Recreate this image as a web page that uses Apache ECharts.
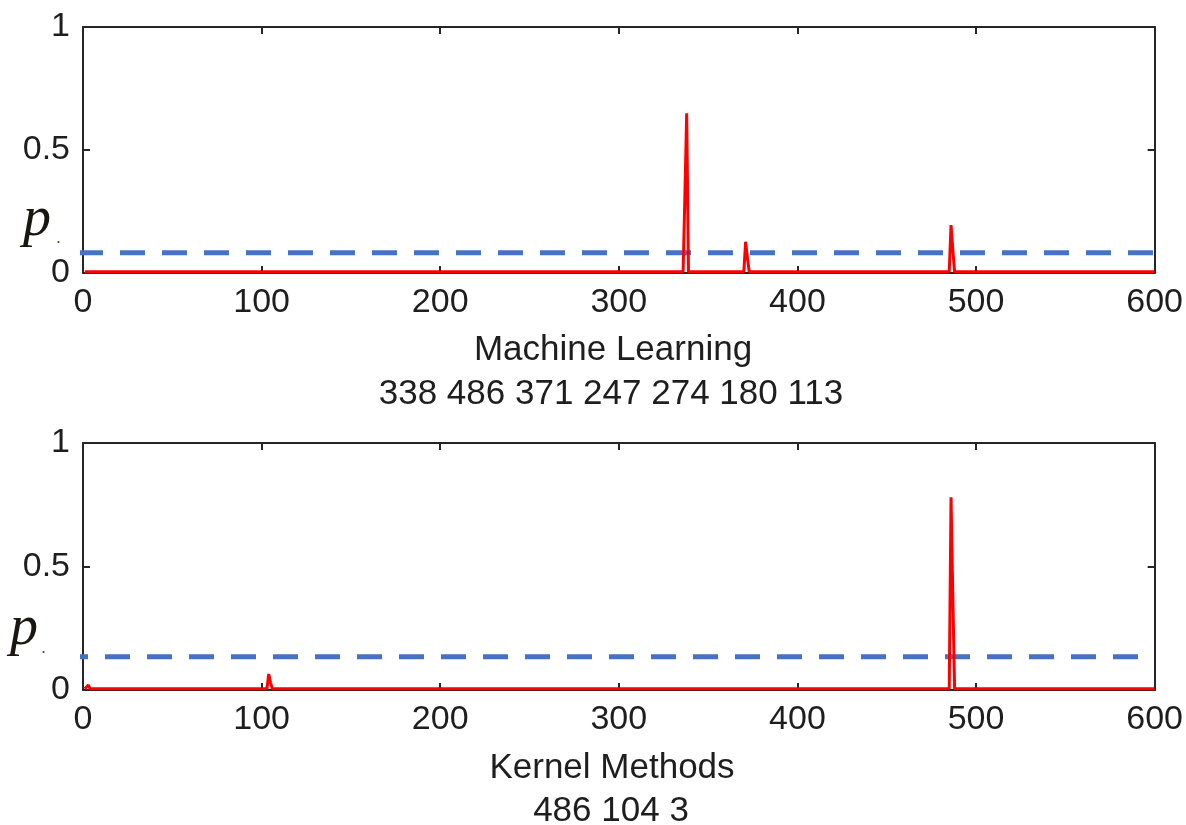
<!DOCTYPE html>
<html>
<head>
<meta charset="utf-8">
<script src="https://cdn.jsdelivr.net/npm/echarts@6/dist/echarts.min.js"></script>
<style>
  html, body { margin: 0; padding: 0; background: #ffffff; }
  #chart { width: 1186px; height: 825px; }
</style>
</head>
<body>
<div id="chart"></div>
<script>
// Word positions (x) and probabilities (y) along the line, per topic.
var mlX = [1, 112, 113, 114, 179, 180, 181, 246, 247, 248, 273, 274, 275, 336, 337, 338, 339, 370, 371, 372, 373, 485, 486, 487, 488, 600];
var mlY = [0.005, 0.005, 0.007, 0.005, 0.005, 0.008, 0.005, 0.005, 0.013, 0.005, 0.005, 0.009, 0.005, 0.005, 0.317, 0.649, 0.005, 0.005, 0.127, 0.062, 0.005, 0.005, 0.195, 0.096, 0.005, 0.005];
var kmX = [1, 2, 3, 4, 103, 104, 105, 106, 485, 486, 487, 488, 600];
var kmY = [0.005, 0.005, 0.02, 0.005, 0.005, 0.065, 0.03, 0.005, 0.005, 0.78, 0.382, 0.005, 0.005];

// Threshold lines: x extent and level
var mlThrX = [-2.8, 600];
var mlThrY = [0.0825, 0.0825];
var kmThrX = [-11.2, 591];
var kmThrY = [0.135, 0.135];

// Captions
var mlTitle = 'Machine Learning';
var mlWords = '338 486 371 247 274 180 113';
var kmTitle = 'Kernel Methods';
var kmWords = '486 104 3';

var xTicks = { min: 0, max: 600, interval: 100 };
var yTicks = { min: 0, max: 1, interval: 0.5 };

function pairs(xs, ys) {
  return xs.map(function (x, i) { return [x, ys[i]]; });
}

var axisColor = '#262626';
var labelFont = { color: '#1e1e1e', fontSize: 34, fontFamily: 'Liberation Sans, Arial, sans-serif' };

function xAxisDef(grid, pos) {
  return {
    type: 'value', gridIndex: grid, position: pos,
    min: xTicks.min, max: xTicks.max, interval: xTicks.interval,
    axisLine: { show: true, onZero: false, lineStyle: { color: axisColor, width: 2 } },
    axisTick: { show: true, inside: true, length: 7, lineStyle: { color: axisColor, width: 2 } },
    axisLabel: pos === 'bottom'
      ? Object.assign({ show: true, margin: 13, formatter: function (v) { return String(v); } }, labelFont)
      : { show: false },
    splitLine: { show: false }
  };
}
function yAxisDef(grid, pos) {
  return {
    type: 'value', gridIndex: grid, position: pos,
    min: yTicks.min, max: yTicks.max, interval: yTicks.interval,
    axisLine: { show: true, onZero: false, lineStyle: { color: axisColor, width: 2 } },
    axisTick: { show: true, inside: true, length: 7, lineStyle: { color: axisColor, width: 2 } },
    axisLabel: pos === 'left'
      ? Object.assign({ show: true, margin: 13, formatter: function (v) { return String(v); } }, labelFont)
      : { show: false },
    splitLine: { show: false }
  };
}

var redLine = { color: '#ff0000', width: 3 };
var dashLine = { color: '#4472c4', width: 5, type: [25, 17] };

var chart = echarts.init(document.getElementById('chart'), null, { renderer: 'canvas' });

function textEl(str, x, y, size, extra) {
  return {
    type: 'text', x: x, y: y, silent: true,
    style: Object.assign({
      text: str, fill: '#1e1e1e', fontSize: size,
      fontFamily: 'Liberation Sans, Arial, sans-serif',
      align: 'center', verticalAlign: 'middle'
    }, extra || {})
  };
}

var pStyle = { fontFamily: 'Liberation Serif, Times New Roman, serif', fontStyle: 'italic', align: 'left', fill: '#1a1712' };
var dotStyle = { align: 'left', fill: '#6b4c30', fontFamily: 'Liberation Sans, Arial, sans-serif' };

chart.setOption({
  animation: false,
  backgroundColor: '#ffffff',
  grid: [
    { left: 83, top: 27, width: 1072, height: 246 },
    { left: 83, top: 443, width: 1072, height: 247 }
  ],
  xAxis: [xAxisDef(0, 'bottom'), xAxisDef(0, 'top'), xAxisDef(1, 'bottom'), xAxisDef(1, 'top')],
  yAxis: [yAxisDef(0, 'left'), yAxisDef(0, 'right'), yAxisDef(1, 'left'), yAxisDef(1, 'right')],
  series: [
    { name: 'threshold-ml', type: 'line', xAxisIndex: 0, yAxisIndex: 0, data: pairs(mlThrX, mlThrY),
      showSymbol: false, clip: false, z: 1, lineStyle: dashLine, silent: true },
    { name: mlTitle, type: 'line', xAxisIndex: 0, yAxisIndex: 0, data: pairs(mlX, mlY),
      showSymbol: false, z: 3, lineStyle: redLine, silent: true },
    { name: 'threshold-km', type: 'line', xAxisIndex: 2, yAxisIndex: 2, data: pairs(kmThrX, kmThrY),
      showSymbol: false, clip: false, z: 1, lineStyle: dashLine, silent: true },
    { name: kmTitle, type: 'line', xAxisIndex: 2, yAxisIndex: 2, data: pairs(kmX, kmY),
      showSymbol: false, z: 3, lineStyle: redLine, silent: true }
  ],
  graphic: [
    textEl(mlTitle, 613, 350, 35),
    textEl(mlWords, 611, 394, 35),
    textEl(kmTitle, 612, 768, 35),
    textEl(kmWords, 611, 811, 35),
    textEl('p', 23, 220, 56, pStyle),
    textEl('.', 56, 238, 18, dotStyle),
    textEl('p', 10, 629, 56, pStyle),
    textEl('.', 41, 648, 18, dotStyle)
  ]
});
</script>
</body>
</html>
